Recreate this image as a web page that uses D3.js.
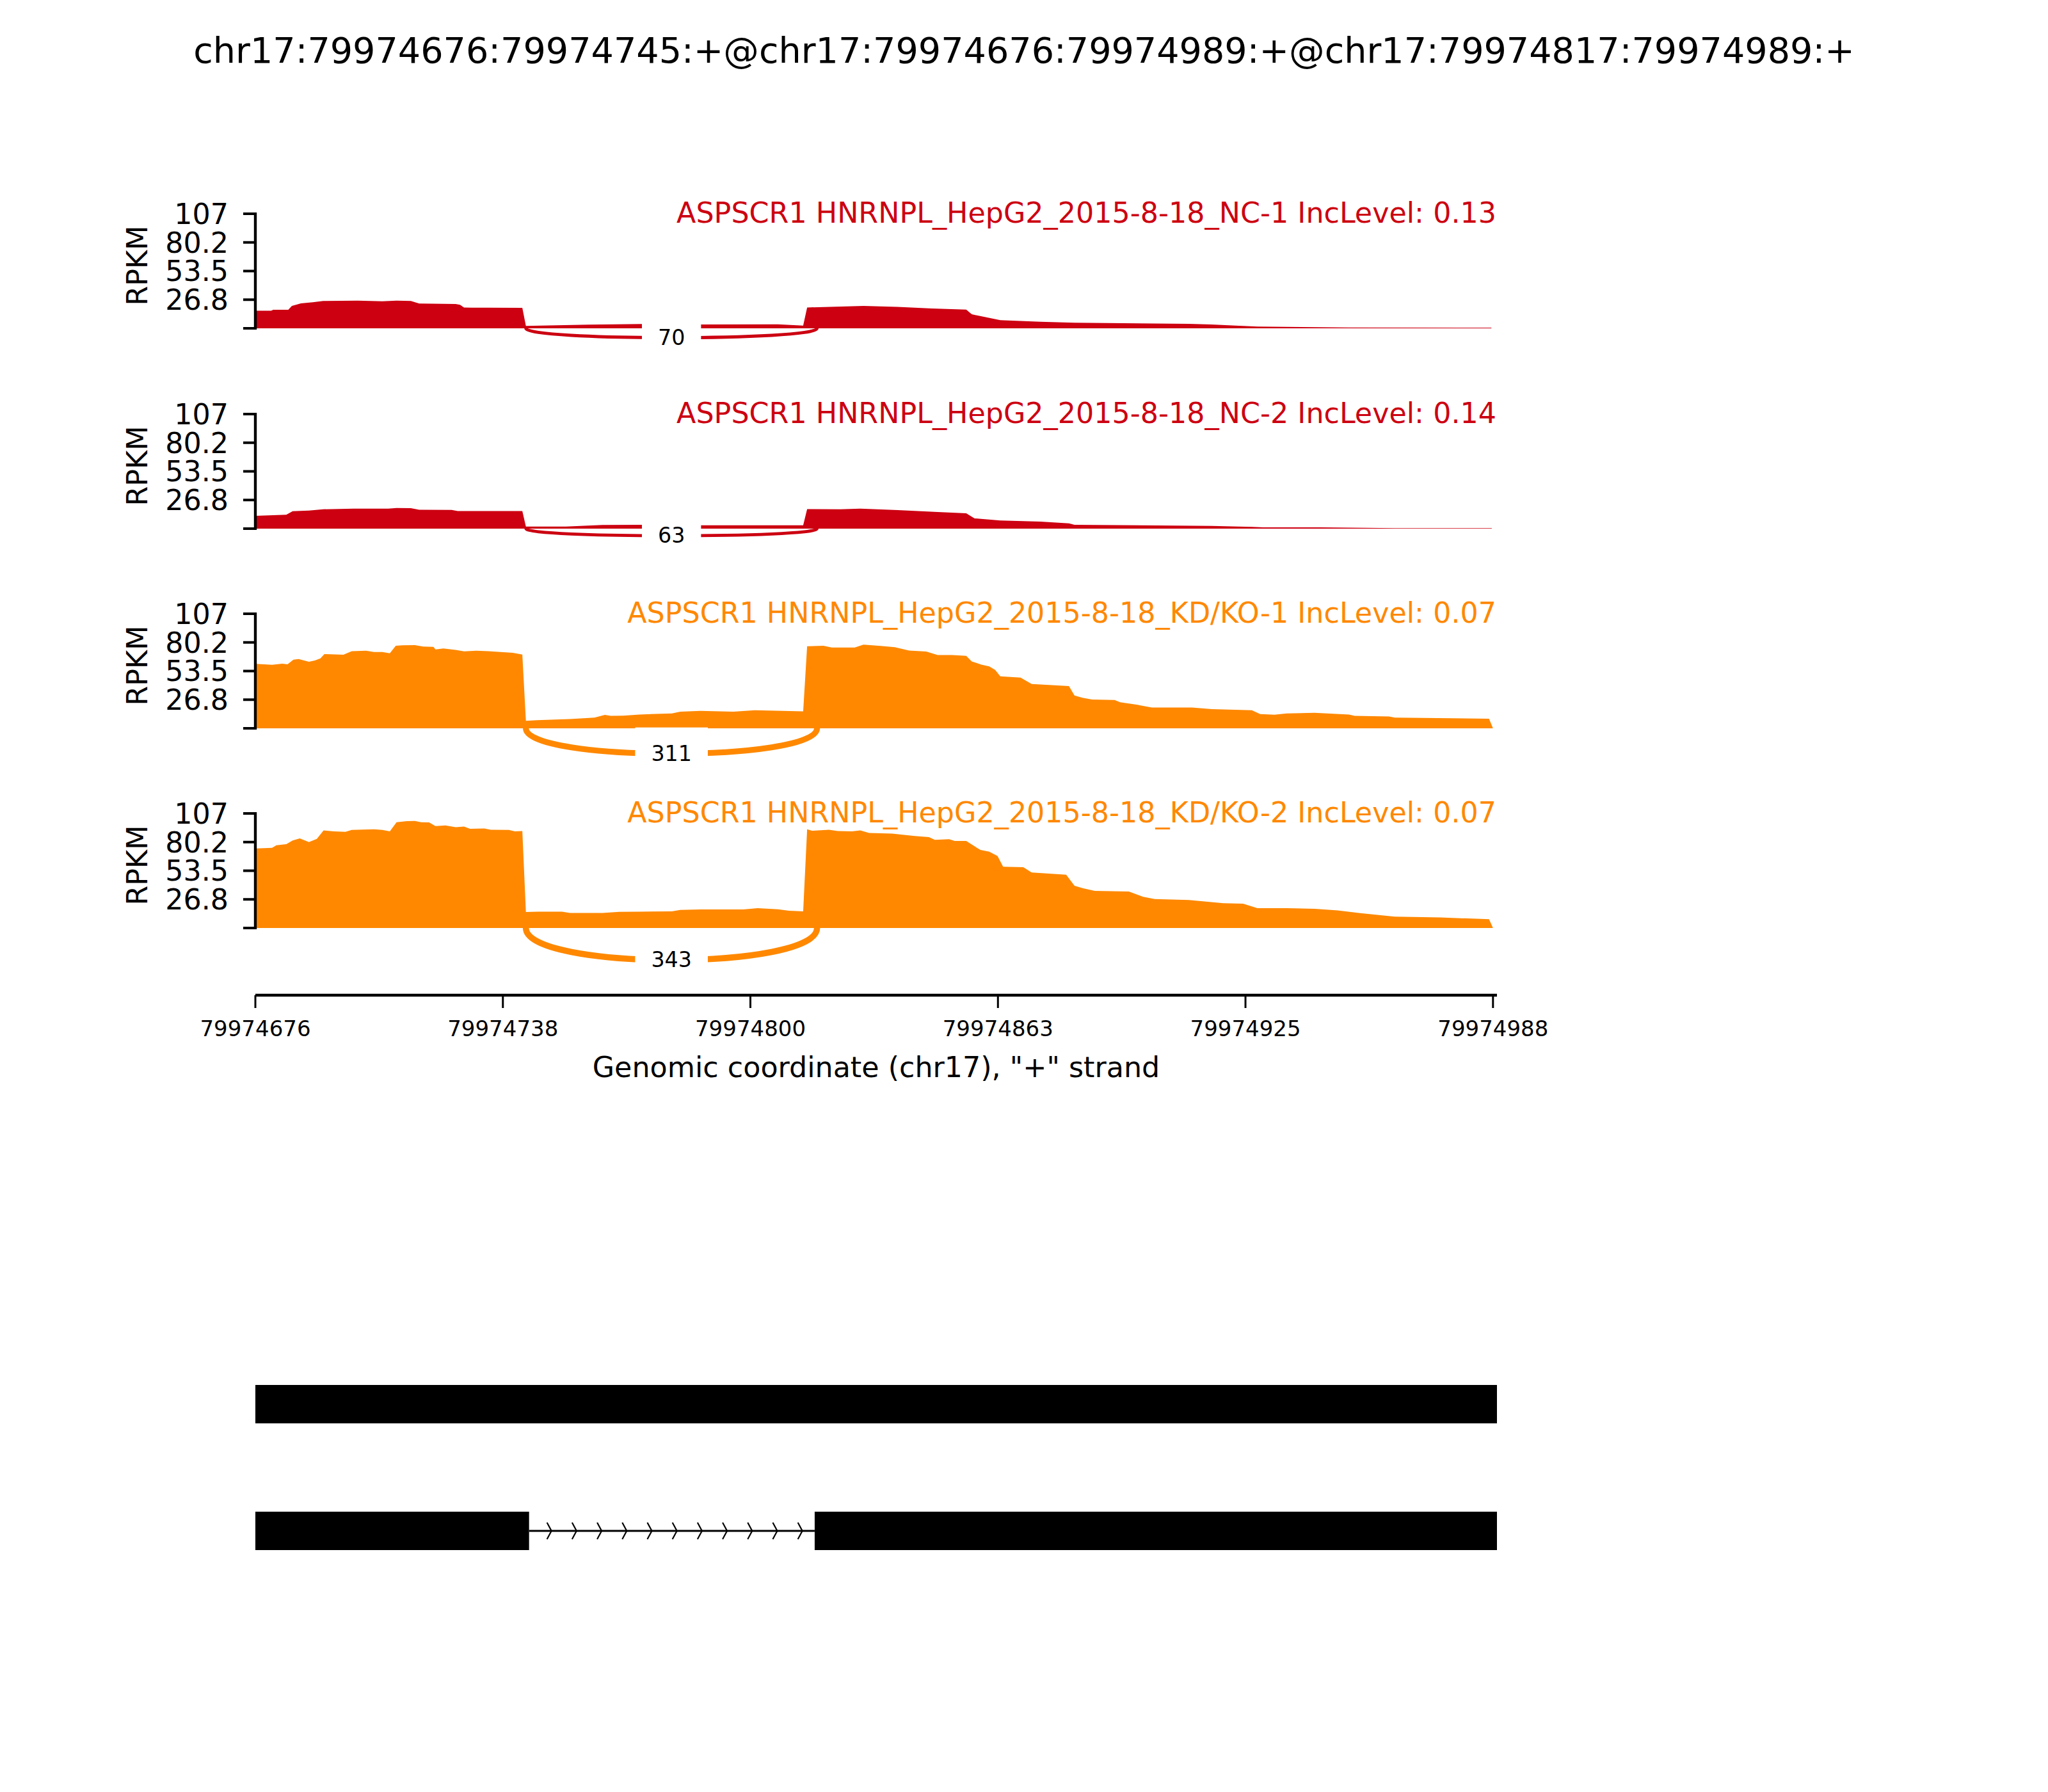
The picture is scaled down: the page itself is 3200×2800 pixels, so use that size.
<!DOCTYPE html>
<html><head><meta charset="utf-8">
<script src="https://cdn.jsdelivr.net/npm/d3@7"></script>
<style>
body{margin:0;background:#fff}
svg{display:block}
text{font-family:"DejaVu Sans",sans-serif}
</style>
</head><body>
<script>
// ---------------- data ----------------
const chartTitle = "chr17:79974676:79974745:+@chr17:79974676:79974989:+@chr17:79974817:79974989:+";
const regionStart = 79974676, regionEnd = 79974989;
const sampleNames = ["ASPSCR1 HNRNPL_HepG2_2015-8-18_NC-1", "ASPSCR1 HNRNPL_HepG2_2015-8-18_NC-2",
                     "ASPSCR1 HNRNPL_HepG2_2015-8-18_KD/KO-1", "ASPSCR1 HNRNPL_HepG2_2015-8-18_KD/KO-2"];
const incLevels = ["0.13", "0.14", "0.07", "0.07"];
const sampleColors = ["#CC0011", "#CC0011", "#FF8800", "#FF8800"];
const junctionCounts = [70, 63, 311, 343];
const junctionDepth = [11.6, 8.8, 31.6, 39.9];           // RPKM units below zero
const junctionFrom = 68.2, junctionTo = 141.6;           // offsets (bp) from regionStart
const yTicks = [0, 26.75, 53.5, 80.25, 107];
const yTickLabels = ["", "26.8", "53.5", "80.2", "107"];
const yMax = 107;
const xTicks = [79974676, 79974738.4, 79974800.8, 79974863.2, 79974925.6, 79974988];
const xTickLabels = ["79974676", "79974738", "79974800", "79974863", "79974925", "79974988"];
const xLabel = 'Genomic coordinate (chr17), "+" strand';
// coverage: [offset from regionStart (bp), RPKM]
const covNC1 = [[0,16.5],[4,16.5],[4.5,17.3],[8.3,17.3],[9.2,20.9],[11.5,23.3],[14.5,24.3],[17.1,25.5],[25.8,25.9],[32,25.3],[35.6,25.9],[39.2,25.5],[41.3,23.1],[50.5,22.7],[51.6,21.9],[52.6,19.5],[54.6,19.3],[67.3,19.1],[68.2,2.2],[72,2.6],[84,3.4],[97.3,4.0],[112,3.6],[131.7,3.8],[138.1,2.6],[139.1,19.5],[153.3,20.9],[161.9,20.1],[170.5,18.5],[179.2,17.5],[180.6,13.1],[187.8,7.6],[197.9,6.2],[206.5,5.2],[235.3,4.2],[241,3.6],[252.6,1.6],[275.6,0.8],[311.6,0.6]];
const covNC2 = [[0,12],[7.8,13],[9.4,16.3],[13.5,16.9],[17.1,18.1],[24.8,18.7],[33.5,18.7],[35.6,19.3],[39.2,19.1],[41.3,17.7],[49.5,17.5],[51,16.5],[67.3,16.5],[68.2,2.0],[78.3,2.0],[87.5,3.4],[97.3,3.6],[112,3.2],[138.1,3.2],[139.1,18.3],[147.5,18.1],[152.5,18.7],[161.9,17.3],[172,15.5],[179.2,14.3],[181.3,9.6],[187.8,7.6],[197.9,6.6],[205.1,5.0],[206.5,3.6],[241.1,2.6],[251.2,1.6],[254.1,1.2],[268.5,1.2],[287.2,0.5],[311.7,0.4]];
const covKD1 = [[0,60.2],[4.2,59.4],[6.8,60.4],[8.1,59.8],[9.6,64.1],[10.9,64.7],[13.5,62.2],[15,63.3],[16.4,65.3],[17.4,69.3],[22.2,68.7],[24.3,72.1],[27.9,72.5],[29.9,71.3],[32,71.3],[33.9,70.1],[35.4,77.1],[37.1,77.5],[40.2,77.7],[42.3,76.3],[44.9,76.1],[45.4,73.7],[47.4,74.5],[50.5,73.3],[52.6,71.9],[55.7,72.5],[58.7,72.1],[61.8,71.3],[64.9,70.5],[67.3,68.9],[68.2,7.0],[71.1,7.6],[79.3,8.6],[85.5,10],[88.1,12.5],[89.6,11.6],[92.7,11.8],[96.8,12.9],[105,13.9],[107.1,15.5],[112.2,16.3],[120.5,15.5],[125.9,16.9],[138.1,15.9],[139.1,76.7],[143.2,77.1],[145.3,75.5],[151.1,75.5],[153.3,78.1],[157.6,76.9],[161.2,75.7],[164.8,72.7],[169.1,71.7],[172,68.5],[175.6,68.5],[179.2,67.7],[180.6,62.5],[183,59.5],[185,57.8],[186.5,54.5],[187.8,48.6],[192.9,47.4],[195.7,41.4],[205.1,39.4],[206.5,30.7],[208.5,28.5],[210.9,26.9],[216.6,26.5],[218,24.3],[222.4,21.9],[226,19.5],[236.1,19.5],[241.1,17.9],[251.2,16.9],[253.3,13.3],[256.9,12.7],[260,13.9],[267,14.5],[275.7,12.9],[277.1,11.6],[285.8,11.0],[287.2,10],[311,9.0],[312,0]];
const covKD2 = [[0,74.3],[4.2,74.9],[5.3,77.3],[7.8,78.3],[9.4,81.7],[11.2,83.7],[13.5,80.3],[15.5,83.3],[17.2,91.2],[19.7,90.2],[22.7,89.8],[24.3,91.6],[29.9,92.2],[32,91.6],[33.9,90.2],[35.6,98.8],[38.2,99.8],[40.2,100],[41.8,98.8],[43.8,98.6],[45.4,95.2],[47.9,95.8],[50.5,94.2],[52.6,94.8],[54.1,92.6],[57.7,93],[59.3,91.8],[63.9,91.6],[65.4,90.2],[67.3,90.6],[68.2,14.9],[71.1,15.3],[77.3,15.3],[79.3,14.1],[87.5,14.1],[91.7,15.1],[96.8,15.3],[105,15.5],[107.1,16.9],[112.2,17.3],[123,17.3],[126.6,18.5],[131.7,17.5],[134.5,16.1],[138.1,15.5],[139.1,92.2],[140.3,90.8],[144.6,91.8],[146.8,90.6],[150.4,90.2],[152.5,91.2],[154.7,88.8],[160.5,88.2],[166.2,85.9],[169.8,84.9],[171.3,82.3],[174.9,82.9],[176.3,81.3],[179.2,81.3],[181.3,76.3],[182.8,72.9],[185,71.3],[187.1,67.3],[188.5,57.2],[193.6,56.8],[195.7,51.8],[204.4,49.8],[206.5,39.4],[208.7,37.1],[211.6,34.7],[220.2,34.1],[223.8,29.1],[226.7,27.1],[235.3,26.1],[244,23.1],[249,22.7],[252.6,18.5],[259.8,18.5],[267,17.9],[272.8,16.5],[278.5,13.9],[287.2,10.6],[298.7,9.8],[311,8.2],[312,0]];
const coverages = [covNC1, covNC2, covKD1, covKD2];
// gene models (isoform exons)
const isoformExons = [
  [[79974676, 79974989]],
  [[79974676, 79974745], [79974817, 79974989]]
];

// ---------------- drawing ----------------
const W = 3200, H = 2800;
const svg = d3.select("body").append("svg").attr("width", W).attr("height", H);
svg.append("rect").attr("width", W).attr("height", H).attr("fill", "#fff");

const x = d3.scaleLinear().domain([regionStart, regionEnd]).range([399, 2339]);
const panelTops = [334, 647, 959, 1271];
const panelH = 179;
const lw = d3.scaleLinear().domain([Math.log(71), Math.log(312)]).range([5, 9.3]);

svg.append("text").attr("x", 1600).attr("y", 98).attr("text-anchor", "middle")
  .attr("font-size", 55.6).attr("fill", "#000").text(chartTitle);

coverages.forEach((cov, i) => {
  const top = panelTops[i];
  const y = d3.scaleLinear().domain([0, yMax]).range([top + panelH, top]);
  const g = svg.append("g");
  const area = d3.area().x(d => x(regionStart + d[0])).y0(y(0)).y1(d => y(d[1]));
  g.append("path").datum(cov).attr("d", area).attr("fill", sampleColors[i]);

  // junction arc
  const x1 = x(regionStart + junctionFrom), x2 = x(regionStart + junctionTo);
  const h = junctionDepth[i];
  const p = d3.path();
  p.moveTo(x1, y(0));
  p.bezierCurveTo(x1, y(-h), x2, y(-h), x2, y(0));
  g.append("path").attr("d", p.toString()).attr("fill", "none")
    .attr("stroke", sampleColors[i]).attr("stroke-width", lw(Math.log(junctionCounts[i] + 1)));
  const mx = (x1 + x2) / 2, my = y(-0.75 * h);
  const box = g.append("rect").attr("fill", "#fff");
  const t = g.append("text").attr("x", mx).attr("y", my).attr("dy", "0.33em")
    .attr("text-anchor", "middle").attr("font-size", 33.3).attr("fill", "#000").text(junctionCounts[i]);
  const tw = t.node().getComputedTextLength();
  box.attr("x", mx - tw / 2 - 25).attr("y", my - 41).attr("width", tw + 50).attr("height", 82);

  // y axis
  g.append("line").attr("x1", 399).attr("x2", 399).attr("y1", y(0) + 2).attr("y2", y(yMax) - 2)
    .attr("stroke", "#000").attr("stroke-width", 4.4);
  yTicks.forEach((v, k) => {
    g.append("line").attr("x1", 380).attr("x2", 399).attr("y1", y(v)).attr("y2", y(v))
      .attr("stroke", "#000").attr("stroke-width", 4);
    g.append("text").attr("x", 357).attr("y", y(v)).attr("dy", "0.36em").attr("text-anchor", "end")
      .attr("font-size", 44.4).attr("fill", "#000").text(yTickLabels[k]);
  });
  g.append("text").attr("transform", `translate(230,${top + 81}) rotate(-90)`)
    .attr("text-anchor", "middle").attr("font-size", 44.4).attr("fill", "#000").text("RPKM");
  g.append("text").attr("x", 2338).attr("y", top + 14).attr("text-anchor", "end")
    .attr("font-size", 44.4).attr("fill", sampleColors[i])
    .text(sampleNames[i] + " IncLevel: " + incLevels[i]);
});

// x axis
const ax = svg.append("g");
ax.append("line").attr("x1", 399).attr("x2", 2339).attr("y1", 1555).attr("y2", 1555)
  .attr("stroke", "#000").attr("stroke-width", 4.4);
xTicks.forEach((v, k) => {
  ax.append("line").attr("x1", x(v)).attr("x2", x(v)).attr("y1", 1555).attr("y2", 1575)
    .attr("stroke", "#000").attr("stroke-width", 3);
  ax.append("text").attr("x", x(v)).attr("y", 1619).attr("text-anchor", "middle")
    .attr("font-size", 34).attr("fill", "#000").text(xTickLabels[k]);
});
ax.append("text").attr("x", 1369).attr("y", 1683).attr("text-anchor", "middle")
  .attr("font-size", 44.4).attr("fill", "#000").text(xLabel);

// gene models
const trackY = [2194, 2392];
isoformExons.forEach((exons, i) => {
  const cy = trackY[i];
  const g = svg.append("g");
  for (let e = 0; e < exons.length - 1; e++) {
    const ix0 = x(exons[e][1]), ix1 = x(exons[e + 1][0]);
    g.append("line").attr("x1", ix0).attr("x2", ix1).attr("y1", cy).attr("y2", cy)
      .attr("stroke", "#000").attr("stroke-width", 3);
    for (let ax0 = ix0 + 32; ax0 < ix1 - 15; ax0 += 39.2) {
      g.append("path").attr("d", `M${ax0 - 4},${cy - 13}L${ax0 + 3},${cy}L${ax0 - 4},${cy + 13}`)
        .attr("fill", "none").attr("stroke", "#000").attr("stroke-width", 2.2);
    }
  }
  exons.forEach(ex => {
    g.append("rect").attr("x", x(ex[0])).attr("width", x(ex[1]) - x(ex[0]))
      .attr("y", cy - 30).attr("height", 60).attr("fill", "#000");
  });
});
</script>
</body></html>
